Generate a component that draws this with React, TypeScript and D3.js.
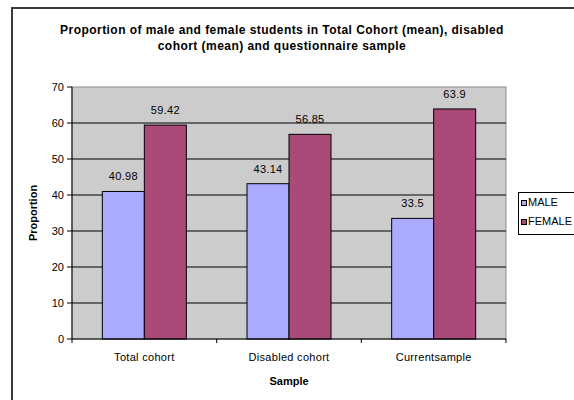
import React from "react";
import * as d3 from "d3";

const categories = ["Total cohort", "Disabled cohort", "Currentsample"];
const seriesNames = ["MALE", "FEMALE"];
const maleValues = [40.98, 43.14, 33.5];
const femaleValues = [59.42, 56.85, 63.9];
const maleLabels = ["40.98", "43.14", "33.5"];
const femaleLabels = ["59.42", "56.85", "63.9"];
const yTicks = [0, 10, 20, 30, 40, 50, 60, 70];
const titleLines = [
  "Proportion of male and female students in Total Cohort (mean), disabled",
  "cohort (mean) and questionnaire sample",
];

const colors = ["#aaaaff", "#a94a78"];
const FONT = "'Liberation Sans', Arial, sans-serif";

export default function App() {
  const W = 574, H = 400;
  const plot = { left: 72, right: 506, top: 87, bottom: 339 };
  const x0 = d3.scaleBand<string>().domain(categories).range([plot.left, plot.right]).paddingInner(0).paddingOuter(0);
  const y = d3.scaleLinear().domain([0, 70]).range([plot.bottom, plot.top]);
  const barW = 42;
  const series = [maleValues, femaleValues];
  const labels = [maleLabels, femaleLabels];

  return (
    <svg width={W} height={H} style={{ position: "absolute", left: 0, top: 0, display: "block" }} fontFamily={FONT}>
      <rect x={0} y={0} width={W} height={H} fill="#ffffff" />
      {/* chart border */}
      <rect x={12} y={8} width={W + 20} height={H + 20} fill="none" stroke="#3a3a3a" strokeWidth={2} />
      {titleLines.map((t, i) => (
        <text key={i} x={282} y={34 + i * 16} textAnchor="middle" fontSize={12} fontWeight="bold" letterSpacing={0.45} fill="#000">
          {t}
        </text>
      ))}
      {/* plot area */}
      <rect x={plot.left} y={plot.top} width={plot.right - plot.left} height={plot.bottom - plot.top} fill="#cccccc" stroke="#8c8c8c" strokeWidth={1} />
      {yTicks.filter((t) => t > 0 && t < 70).map((t) => (
        <line key={t} x1={plot.left} x2={plot.right} y1={y(t)} y2={y(t)} stroke="#000" strokeWidth={1} />
      ))}
      {/* bars */}
      {categories.map((c, ci) => {
        const cx = (x0(c) as number) + x0.bandwidth() / 2;
        return series.map((vals, si) => {
          const bx = cx - barW + si * barW;
          const top = y(vals[ci]);
          return (
            <g key={c + si}>
              <rect x={bx} y={top} width={barW} height={plot.bottom - top} fill={colors[si]} stroke="#000" strokeWidth={1} />
              <text x={bx + barW / 2} y={top - 11} textAnchor="middle" fontSize={11} fill="#000" letterSpacing={0.3}>
                {labels[si][ci]}
              </text>
            </g>
          );
        });
      })}
      {/* axes */}
      <line x1={plot.left} x2={plot.left} y1={plot.top} y2={plot.bottom} stroke="#000" />
      <line x1={plot.left} x2={plot.right} y1={plot.bottom} y2={plot.bottom} stroke="#000" />
      {yTicks.map((t) => (
        <g key={t}>
          <line x1={plot.left - 5} x2={plot.left} y1={y(t)} y2={y(t)} stroke="#000" />
          <text x={64} y={y(t) + 4} textAnchor="end" fontSize={11} fill="#000">{t}</text>
        </g>
      ))}
      {[...categories.map((c) => x0(c) as number), plot.right].map((xv, i) => (
        <line key={i} x1={xv} x2={xv} y1={plot.bottom} y2={plot.bottom + 4} stroke="#000" />
      ))}
      {categories.map((c) => (
        <text key={c} x={(x0(c) as number) + x0.bandwidth() / 2} y={361} textAnchor="middle" fontSize={11} fill="#000" letterSpacing={0.3}>
          {c}
        </text>
      ))}
      <text x={(plot.left + plot.right) / 2} y={385} textAnchor="middle" fontSize={11} fontWeight="bold" fill="#000">Sample</text>
      <text transform={`translate(37,${(plot.top + plot.bottom) / 2}) rotate(-90)`} textAnchor="middle" fontSize={11} fontWeight="bold" fill="#000">Proportion</text>
      {/* legend */}
      <rect x={518.5} y={192.5} width={80} height={42} fill="#ffffff" stroke="#000" strokeWidth={1} />
      {seriesNames.map((s, i) => (
        <g key={s}>
          <rect x={521.5} y={200.5 + i * 19} width={5} height={5} fill={colors[i]} stroke="#000" strokeWidth={1} />
          <text x={528} y={206 + i * 19} fontSize={11} fill="#000">{s}</text>
        </g>
      ))}
    </svg>
  );
}
